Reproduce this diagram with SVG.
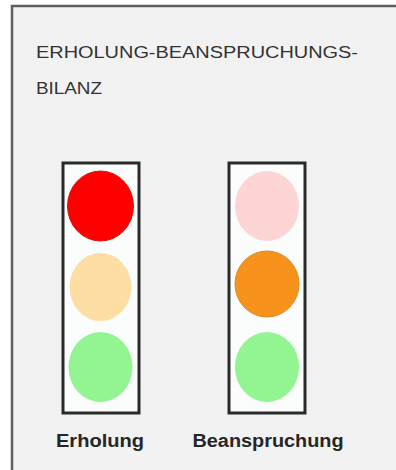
<svg xmlns="http://www.w3.org/2000/svg" width="396" height="470" viewBox="0 0 396 470">
<style>
.frame{fill:#f2f2f2;stroke:#5f5f5f;stroke-width:2.5}
.box{fill:#fbfcfc;stroke:#2a2a2a;stroke-width:3}
.title{font-family:"Liberation Sans",Arial,sans-serif;font-size:16px;fill:#333333}
.label{font-family:"Liberation Sans",Arial,sans-serif;font-weight:bold;font-size:18px;fill:#262626}
</style>
<rect width="396" height="470" fill="#ffffff"/>
<rect class="frame" x="12" y="6" width="400" height="480"/>
<text class="title" x="36" y="58" textLength="322" lengthAdjust="spacingAndGlyphs">ERHOLUNG-BEANSPRUCHUNGS-</text>
<text class="title" x="36" y="94" textLength="66" lengthAdjust="spacingAndGlyphs">BILANZ</text>
<g id="erholung">
<rect class="box" x="63" y="163" width="76" height="250"/>
<ellipse cx="100.5" cy="206" rx="33" ry="35" fill="#fe0000" stroke="#e01010" stroke-width="1"/>
<ellipse cx="100.5" cy="287" rx="31" ry="34" fill="#fddfa6"/>
<ellipse cx="100.5" cy="367" rx="32" ry="35" fill="#92f592"/>
<text class="label" x="100" y="447" text-anchor="middle" textLength="88" lengthAdjust="spacingAndGlyphs">Erholung</text>
</g>
<g id="beanspruchung">
<rect class="box" x="229" y="163" width="76" height="250"/>
<ellipse cx="267" cy="206" rx="32" ry="35" fill="#fdd5d5"/>
<ellipse cx="267" cy="284" rx="32" ry="33" fill="#f7931c" stroke="#d98a20" stroke-width="1"/>
<ellipse cx="267" cy="367" rx="32" ry="35" fill="#92f592"/>
<text class="label" x="268" y="447" text-anchor="middle" textLength="151" lengthAdjust="spacingAndGlyphs">Beanspruchung</text>
</g>
<g id="connectors"/>
</svg>
